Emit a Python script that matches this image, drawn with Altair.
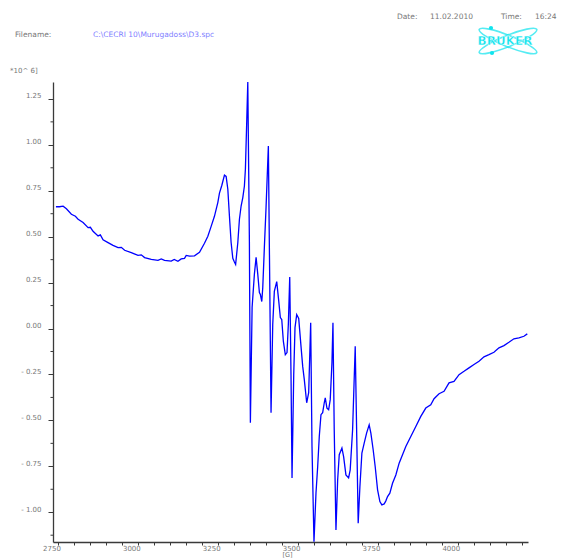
import altair as alt
import pandas as pd

# EPR spectrum: magnetic field [G] and first-derivative signal [*10^6]
field_g = [
    2742.2, 2753.1, 2764.7, 2775.0, 2790.6, 2803.1, 2811.6, 2827.2, 2842.8, 2850.0,
    2858.4, 2874.1, 2881.3, 2889.7, 2905.3, 2920.9, 2936.6, 2946.9, 2957.2, 2978.1,
    2999.1, 3009.4, 3019.7, 3040.6, 3061.6, 3071.9, 3082.2, 3103.1, 3112.5, 3124.1,
    3134.4, 3144.7, 3150.0, 3160.3, 3175.9, 3191.6, 3207.2, 3217.8, 3228.1, 3238.4,
    3249.1, 3254.1, 3261.6, 3269.7, 3275.0, 3280.3, 3285.3, 3290.6, 3295.9, 3300.9,
    3304.7, 3311.6, 3316.6, 3321.9, 3327.2, 3332.2, 3335.3, 3339.7, 3342.8, 3347.8,
    3350.9, 3356.3, 3363.4, 3368.8, 3374.1, 3379.1, 3382.2, 3386.6, 3389.7, 3394.7,
    3400.0, 3407.2, 3415.6, 3420.9, 3425.9, 3433.4, 3439.7, 3444.7, 3449.1, 3454.1,
    3460.3, 3465.6, 3469.7, 3474.1, 3478.1, 3481.3, 3486.6, 3490.6, 3495.9, 3502.2,
    3509.4, 3514.7, 3519.7, 3527.2, 3533.4, 3539.7, 3543.8, 3550.0, 3556.3, 3561.6,
    3566.6, 3571.9, 3577.2, 3582.2, 3585.3, 3590.6, 3595.9, 3600.9, 3606.3, 3609.4,
    3613.4, 3618.8, 3624.1, 3629.1, 3637.5, 3642.8, 3650.0, 3658.4, 3663.4, 3670.9,
    3679.1, 3684.4, 3688.4, 3693.8, 3700.0, 3707.2, 3714.7, 3722.8, 3728.1, 3735.3,
    3741.6, 3749.1, 3756.3, 3762.5, 3769.7, 3775.0, 3780.3, 3787.5, 3795.9, 3806.3,
    3816.6, 3827.2, 3837.5, 3853.1, 3868.8, 3884.4, 3900.0, 3915.6, 3925.9, 3941.6,
    3957.2, 3972.8, 3988.4, 4004.1, 4019.7, 4035.3, 4050.9, 4066.6, 4082.2, 4097.8,
    4113.4, 4129.1, 4144.7, 4160.3, 4175.9, 4191.6, 4207.2, 4217.8,
]
signal = [
    0.663, 0.663, 0.666, 0.652, 0.622, 0.611, 0.595, 0.577, 0.549, 0.551,
    0.529, 0.504, 0.510, 0.483, 0.468, 0.453, 0.440, 0.442, 0.426, 0.413,
    0.398, 0.401, 0.386, 0.376, 0.371, 0.379, 0.371, 0.367, 0.376, 0.366,
    0.379, 0.382, 0.398, 0.394, 0.396, 0.415, 0.464, 0.502, 0.556, 0.611,
    0.687, 0.737, 0.780, 0.835, 0.828, 0.758, 0.613, 0.468, 0.382, 0.362,
    0.349, 0.468, 0.595, 0.667, 0.713, 0.776, 0.867, 1.140, 1.342, 0.475,
    -0.513, 0.115, 0.295, 0.387, 0.295, 0.196, 0.185, 0.147, 0.224, 0.442,
    0.660, 0.993, -0.458, 0.022, 0.202, 0.255, 0.149, 0.060, 0.049, -0.069,
    -0.142, -0.131, 0.022, 0.280, -0.251, -0.813, -0.251, 0.005, 0.076, 0.055,
    -0.097, -0.206, -0.278, -0.404, -0.349, 0.031, -0.642, -1.160, -0.895, -0.751,
    -0.588, -0.469, -0.458, -0.404, -0.378, -0.433, -0.442, -0.387, -0.185, 0.031,
    -0.551, -1.097, -0.824, -0.687, -0.651, -0.697, -0.797, -0.813, -0.769, -0.551,
    -0.097, -0.642, -1.060, -0.860, -0.678, -0.624, -0.569, -0.524, -0.569, -0.660,
    -0.751, -0.878, -0.942, -0.960, -0.955, -0.938, -0.915, -0.896, -0.842, -0.797,
    -0.733, -0.687, -0.642, -0.588, -0.533, -0.478, -0.433, -0.415, -0.382, -0.355,
    -0.342, -0.296, -0.288, -0.251, -0.233, -0.214, -0.196, -0.178, -0.154, -0.142,
    -0.129, -0.105, -0.093, -0.075, -0.056, -0.051, -0.042, -0.029,
]

y_major = [-1.0, -0.75, -0.5, -0.25, 0.0, 0.25, 0.5, 0.75, 1.0, 1.25]
y_minor = [-1.125, -0.875, -0.625, -0.375, -0.125, 0.125, 0.375, 0.625, 0.875, 1.125]
x_ticks = list(range(2750, 4201, 50))

FONT = "DejaVu Sans"
GREY = "#777777"
AXIS = "#3a3a3a"
CYAN = "#10e4ee"

x_scale = alt.Scale(domain=[2733, 4220], nice=False, zero=False)
y_scale = alt.Scale(domain=[-1.162, 1.342], nice=False, zero=False)

y_axis = alt.Axis(
    values=y_major,
    labelExpr="datum.value < 0 ? '- ' + format(-datum.value, '.2f') : format(datum.value, '.2f')",
    tickSize=5,
    labelPadding=7,
    labelOffset=-3,
    labelBaseline="middle",
    labelFlush=False,
    labelOverlap=False,
    title=None,
)

spectrum = pd.DataFrame({"field": field_g, "signal": signal})

line = alt.Chart(spectrum).mark_line(color="#0000ff", strokeWidth=1.3).encode(
    x=alt.X(
        "field:Q",
        scale=x_scale,
        axis=alt.Axis(
            values=x_ticks,
            labelExpr="datum.value % 250 == 0 ? format(datum.value, 'd') : ''",
            tickSize=3,
            labelPadding=-1,
            labelAlign="right",
            labelBaseline="top",
            labelOffset=2,
            labelFlush=False,
            labelOverlap=False,
            title="[G]",
            titleFont=FONT,
            titleFontSize=6.5,
            titleFontWeight="normal",
            titleColor=GREY,
            titleY=15.5,
            titleX=234,
            titleBaseline="bottom",
        ),
    ),
    y=alt.Y("signal:Q", scale=y_scale, axis=y_axis),
)

# short intermediate ticks on the signal axis
minor = alt.Chart(pd.DataFrame({"signal": y_minor})).mark_rule(color=AXIS, strokeWidth=1).encode(
    y=alt.Y("signal:Q", scale=y_scale, axis=y_axis),
    x=alt.value(-2.5),
    x2=alt.value(0),
)

one = pd.DataFrame({"k": [0]})


def label(text, x, y, color=GREY, size=7.5, align="left", weight="normal"):
    return alt.Chart(one).mark_text(
        text=text, font=FONT, fontSize=size, color=color, align=align,
        baseline="middle", fontWeight=weight,
    ).encode(x=alt.value(x), y=alt.value(y))


header = [
    label("Date:", 344, -65),
    label("11.02.2010", 377, -65),
    label("Time:", 448, -65),
    label("16:24", 482, -65),
    label("Filename:", -38, -47),
    label("C:\\CECRI 10\\Murugadoss\\D3.spc", 40, -47, color="#7f7fff"),
    label("*10^  6]", -43, -11, size=7),
]

# Bruker logo: two crossing orbits, two electrons and the name
orbit = "M -1 0 A 1 0.18 0 1 1 1 0 A 1 0.18 0 1 1 -1 0 Z"
logo = [
    alt.Chart(one).mark_point(shape=orbit, size=3844, filled=False, stroke=CYAN,
                              strokeWidth=1.6, angle=22).encode(x=alt.value(455), y=alt.value(-41)),
    alt.Chart(one).mark_point(shape=orbit, size=3844, filled=False, stroke=CYAN,
                              strokeWidth=1.6, angle=338).encode(x=alt.value(455), y=alt.value(-41)),
    alt.Chart(one).mark_point(shape="circle", size=18, filled=True, color=CYAN,
                              opacity=1).encode(x=alt.value(438), y=alt.value(-54)),
    alt.Chart(one).mark_point(shape="circle", size=18, filled=True, color=CYAN,
                              opacity=1).encode(x=alt.value(439), y=alt.value(-29)),
    alt.Chart(one).mark_text(text="BRUKER", font=FONT, fontSize=12, fontWeight="bold",
                             color=CYAN, stroke="#ffffff", strokeWidth=0.4, align="center",
                             baseline="middle").encode(x=alt.value(452), y=alt.value(-41)),
]

chart = alt.layer(line, minor, *header, *logo).properties(
    width=475,
    height=460,
    autosize="none",
    padding={"left": 53, "top": 82, "right": 33, "bottom": 16},
).configure_view(stroke=None).configure_axis(
    domainColor=AXIS,
    domainWidth=1.3,
    tickColor=AXIS,
    tickWidth=1,
    labelFont=FONT,
    labelFontSize=7,
    labelColor=GREY,
    grid=False,
)

chart.save("out.html", embed_options={"renderer": "svg", "actions": False})
